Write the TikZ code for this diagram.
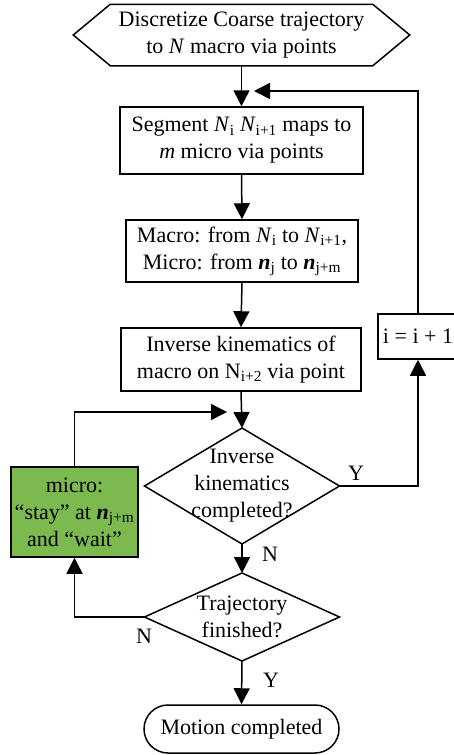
\documentclass[tikz,border=0pt]{standalone}
\usepackage{fontspec}
\setmainfont{Liberation Serif}
\usetikzlibrary{arrows.meta}
\definecolor{mgreen}{RGB}{124,186,80}
\begin{document}
\begin{tikzpicture}[x=1pt,y=-1pt, line width=1.5pt,
  every node/.style={font=\fontsize{22}{27}\selectfont, align=center, inner sep=0pt},
  arr/.style={-{Triangle[width=16pt,length=16pt]}}]
\useasboundingbox (0,0) rectangle (453,755);
% start hexagon
\node[minimum width=261pt, minimum height=60pt] (start) at (241.5,35) {Discretize Coarse trajectory\\to \textit{N} macro via points};
\draw (start.north west) -- (start.north east) -- ([xshift=37pt]start.east) -- (start.south east) -- (start.south west) -- ([xshift=-37pt]start.west) -- cycle;
% boxes
\node[draw, minimum width=243pt, minimum height=67pt] (seg) at (241.5,140.5) {Segment \textit{N}\textsubscript{i} \textit{N}\textsubscript{i+1} maps to\\\textit{m} micro via points};
\node[draw, minimum width=232pt, minimum height=62pt] (mac) at (242,251) {Macro: from \textit{N}\textsubscript{i} to \textit{N}\textsubscript{i+1},\\Micro: from \textbf{\textit{n}}\textsubscript{j} to \textbf{\textit{n}}\textsubscript{j+m}};
\node[draw, minimum width=240pt, minimum height=63pt] (ik) at (241,359.5) {Inverse kinematics of\\macro on N\textsubscript{i+2} via point};
\node[draw, minimum width=80pt, minimum height=45pt] (inc) at (418,336.5) {i = i + 1};
\node[draw, fill=mgreen, minimum width=127pt, minimum height=90pt] (wait) at (74.5,512) {micro:\\“stay” at \textbf{\textit{n}}\textsubscript{j+m}\\and “wait”};
% diamond 1
\coordinate (d1t) at (242,428);
\coordinate (d1b) at (242,544);
\coordinate (d1l) at (144.5,486);
\coordinate (d1r) at (339.5,486);
\draw (d1t) -- (d1r) -- (d1b) -- (d1l) -- cycle;
\node (d1) at (242,486) {Inverse\\kinematics\\completed?};
% diamond 2
\coordinate (d2t) at (242,573);
\coordinate (d2b) at (242,661);
\coordinate (d2l) at (144.5,617);
\coordinate (d2r) at (339.5,617);
\draw (d2t) -- (d2r) -- (d2b) -- (d2l) -- cycle;
\node (d2) at (242,617) {Trajectory\\finished?};
% terminal
\node[draw, rounded corners=24pt, minimum width=195pt, minimum height=48pt] (term) at (241.5,729) {Motion completed};
% connectors
\coordinate (fb) at (254,91);
\coordinate (gfb) at (227,412);
\draw[arr] (start.south) -- (seg.north);
\draw[arr] (inc.north) |- (fb);
\draw[arr] (seg.south) -- (mac.north);
\draw[arr] (mac.south) -- (ik.north);
\draw[arr] (ik.south) -- (d1t);
\draw[arr] (wait.north) |- (gfb);
\draw[arr] (d1r) -| (inc.south);
\draw[arr] (d1b) -- (d2t);
\draw[arr] (d2l) -| (wait.south);
\draw[arr] (d2b) -- (term.north);
% labels
\node (y1) at (356,473) {Y};
\node (n1) at (270,554) {N};
\node (n2) at (144,636) {N};
\node (y2) at (271,680) {Y};
\end{tikzpicture}
\end{document}
